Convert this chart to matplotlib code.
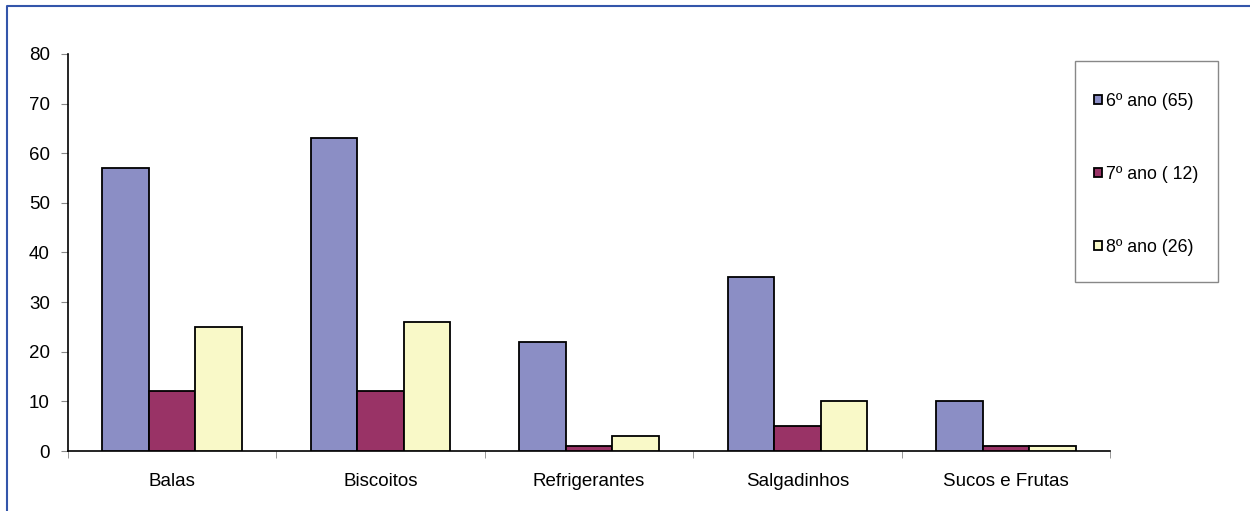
import matplotlib.pyplot as plt
import numpy as np
from matplotlib.patches import Rectangle
from matplotlib.lines import Line2D

plt.rcParams['font.family'] = ['Liberation Sans', 'DejaVu Sans']

categorias = ['Balas', 'Biscoitos', 'Refrigerantes', 'Salgadinhos', 'Sucos e Frutas']
series = ['6º ano (65)', '7º ano ( 12)', '8º ano (26)']
ano6 = [57, 63, 22, 35, 10]
ano7 = [12, 12, 1, 5, 1]
ano8 = [25, 26, 3, 10, 1]
cores = ['#8B8EC5', '#993366', '#F9F9C8']

W, H = 1250, 511
fig = plt.figure(figsize=(W / 100, H / 100), dpi=100)
ax = fig.add_axes([68 / W, 1 - 451 / H, (1110 - 68) / W, (451 - 54) / H])

# borda azul (só topo e esquerda aparecem)
fig.lines.append(Line2D([7 / W, 7 / W, 1], [0, 1 - 6 / H, 1 - 6 / H], transform=fig.transFigure,
                        color='#3355AA', linewidth=1.5))

x = np.arange(len(categorias))
w = 0.223
for i, (vals, nome) in enumerate(zip([ano6, ano7, ano8], series)):
    ax.bar(x + (i - 1) * w, vals, w, color=cores[i], edgecolor='black', linewidth=1.3,
           label=nome, zorder=3)

ax.set_xlim(-0.5, len(categorias) - 0.5)
ax.set_ylim(0, 80)
ax.set_yticks(range(0, 81, 10))
ax.set_xticks(x)
ax.set_xticklabels(categorias, fontsize=13.5)
ax.tick_params(axis='x', length=0, pad=16)
ax.set_xticks(np.arange(-0.5, len(categorias)), minor=True)
ax.tick_params(axis='x', which='minor', length=5, color='#888888', direction='out')
ax.tick_params(axis='y', labelsize=13.5, length=5, color='#888888', pad=8)
for s in ['top', 'right']:
    ax.spines[s].set_visible(False)
ax.spines['left'].set_linewidth(1.2)
ax.spines['bottom'].set_linewidth(1.2)

# caixa da legenda
fig.patches.append(Rectangle((1075 / W, 1 - 282 / H), 143 / W, 221 / H, transform=fig.transFigure,
                             fill=False, edgecolor='#888888', linewidth=1))
ax.legend(loc='upper left', bbox_to_anchor=(1094 / W, 1 - 93 / H), bbox_transform=fig.transFigure,
          frameon=False, fontsize=12.8, handlelength=0.45, handleheight=0.45,
          handletextpad=0.25, labelspacing=3.15, borderpad=0, borderaxespad=0)

fig.savefig('out.png', dpi=100)
